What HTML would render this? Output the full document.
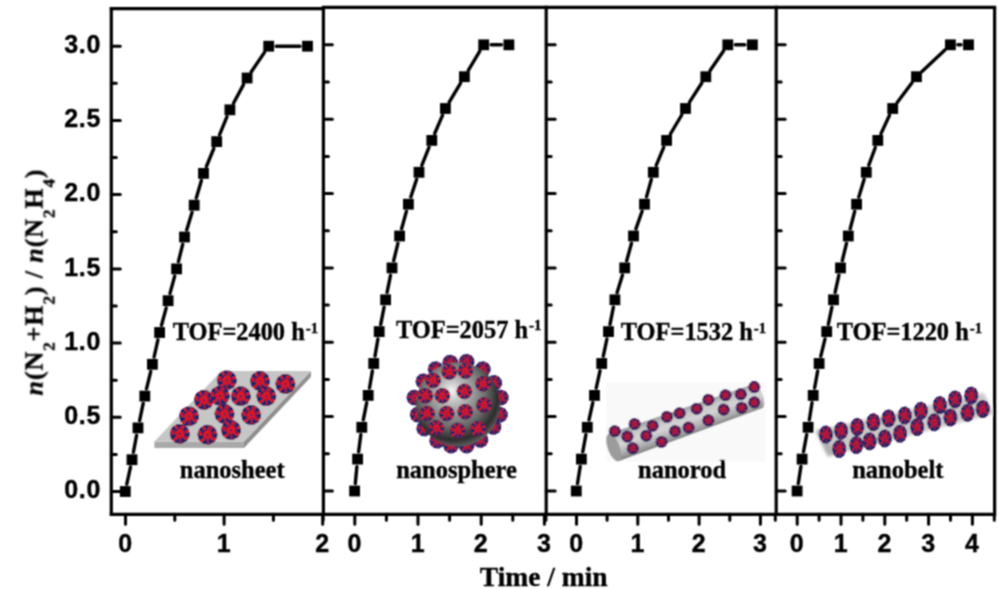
<!DOCTYPE html>
<html><head><meta charset="utf-8"><style>
html,body{margin:0;padding:0;background:#fff;}
body{width:1000px;height:590px;overflow:hidden;position:relative;}
svg{position:absolute;left:0;top:0;}
</style></head><body>
<svg width="1000" height="590" viewBox="0 0 1000 590">
<filter id="soft" x="-2%" y="-2%" width="104%" height="104%"><feConvolveMatrix order="3" kernelMatrix="1 2 1 2 4 2 1 2 1" divisor="16" edgeMode="none"/></filter>
<rect width="1000" height="590" fill="#fff"/>
<g filter="url(#soft)">
<defs>
<symbol id="np" viewBox="-10 -10 20 20" overflow="visible">
<circle r="9.7" fill="#ec1418"/>
<g fill="#17256a">
<path d="M2.66 0.32L9.47 -1.55L8.83 3.76ZM1.05 2.03L6.65 6.93L1.80 9.43ZM-0.74 2.43L0.06 9.60L-5.42 7.92ZM-2.66 0.91L-7.68 5.76L-9.60 0.15ZM-2.33 -1.94L-8.78 -3.88L-5.42 -7.93ZM-0.41 -3.30L-3.84 -8.80L1.58 -9.47ZM2.31 -2.02L5.07 -8.15L8.76 -3.93Z"/>
<ellipse cx="5.28" cy="2.89" rx="1.15" ry="0.72" transform="rotate(28 5.28 2.89)"/><ellipse cx="1.12" cy="6.13" rx="1.08" ry="0.89" transform="rotate(79 1.12 6.13)"/><ellipse cx="-4.83" cy="3.43" rx="1.35" ry="0.76" transform="rotate(144 -4.83 3.43)"/><ellipse cx="-5.21" cy="-1.38" rx="1.36" ry="0.95" transform="rotate(194 -5.21 -1.38)"/><ellipse cx="-2.74" cy="-3.91" rx="0.93" ry="0.99" transform="rotate(234 -2.74 -3.91)"/><ellipse cx="2.14" cy="-5.34" rx="0.98" ry="0.80" transform="rotate(291 2.14 -5.34)"/><ellipse cx="4.96" cy="-1.57" rx="1.15" ry="0.83" transform="rotate(342 4.96 -1.57)"/>
<circle r="1.2"/>
</g>
<circle r="9.1" fill="none" stroke="#17256a" stroke-width="1.2" stroke-dasharray="3.5 2"/>
</symbol>
<symbol id="np2" viewBox="-10 -10 20 20" overflow="visible">
<circle r="9.7" fill="#d0142a"/>
<g fill="#17256a">
<path d="M2.66 0.32L9.47 -1.55L8.83 3.76ZM1.05 2.03L6.65 6.93L1.80 9.43ZM-0.74 2.43L0.06 9.60L-5.42 7.92ZM-2.66 0.91L-7.68 5.76L-9.60 0.15ZM-2.33 -1.94L-8.78 -3.88L-5.42 -7.93ZM-0.41 -3.30L-3.84 -8.80L1.58 -9.47ZM2.31 -2.02L5.07 -8.15L8.76 -3.93Z"/>
<ellipse cx="5.28" cy="2.89" rx="1.15" ry="0.72" transform="rotate(28 5.28 2.89)"/><ellipse cx="1.12" cy="6.13" rx="1.08" ry="0.89" transform="rotate(79 1.12 6.13)"/><ellipse cx="-4.83" cy="3.43" rx="1.35" ry="0.76" transform="rotate(144 -4.83 3.43)"/><ellipse cx="-5.21" cy="-1.38" rx="1.36" ry="0.95" transform="rotate(194 -5.21 -1.38)"/><ellipse cx="-2.74" cy="-3.91" rx="0.93" ry="0.99" transform="rotate(234 -2.74 -3.91)"/><ellipse cx="2.14" cy="-5.34" rx="0.98" ry="0.80" transform="rotate(291 2.14 -5.34)"/><ellipse cx="4.96" cy="-1.57" rx="1.15" ry="0.83" transform="rotate(342 4.96 -1.57)"/>
<circle r="1.2"/>
</g>
<circle r="9.1" fill="none" stroke="#17256a" stroke-width="2" stroke-dasharray="4 1.2"/>
</symbol>
<radialGradient id="bigsph" cx="0.45" cy="0.4" r="0.6" fx="0.42" fy="0.33">
<stop offset="0" stop-color="#f2f2f2"/>
<stop offset="0.28" stop-color="#b4b4b4"/>
<stop offset="0.65" stop-color="#6c6c6c"/>
<stop offset="0.88" stop-color="#2c2c2c"/>
<stop offset="1" stop-color="#5c5c5c"/>
</radialGradient>
<linearGradient id="rodg" x1="0" y1="0" x2="0" y2="1">
<stop offset="0" stop-color="#9a9a9a"/>
<stop offset="0.25" stop-color="#c8c8c8"/>
<stop offset="0.5" stop-color="#d4d4d4"/>
<stop offset="0.8" stop-color="#a9a9a9"/>
<stop offset="1" stop-color="#808080"/>
</linearGradient>
<linearGradient id="beltg" x1="0" y1="0" x2="0" y2="1">
<stop offset="0" stop-color="#d8d8d8"/>
<stop offset="0.5" stop-color="#c4c4c4"/>
<stop offset="1" stop-color="#d9d9d9"/>
</linearGradient>
</defs>
<path d="M154.4 441.5 L244 441.5 L244 448 L154.4 448Z" fill="#a9a9a9"/>
<path d="M244 441.5 L310.9 371 L310.9 377 L244 448Z" fill="#8f8f8f"/>
<path d="M154.4 441.5 L221.2 371 L310.9 371 L244 441.5Z" fill="#c6c6c6"/>
<use href="#np" x="216.6" y="370.1" width="20.4" height="20.4"/>
<use href="#np" x="249.8" y="370.8" width="20.4" height="20.4"/>
<use href="#np" x="275.2" y="373.8" width="20.4" height="20.4"/>
<use href="#np" x="193.8" y="389.8" width="20.4" height="20.4"/>
<use href="#np" x="209.6" y="385.6" width="20.4" height="20.4"/>
<use href="#np" x="230.6" y="386" width="20.4" height="20.4"/>
<use href="#np" x="256.1" y="386" width="20.4" height="20.4"/>
<use href="#np" x="178.9" y="406.1" width="20.4" height="20.4"/>
<use href="#np" x="214.3" y="403.8" width="20.4" height="20.4"/>
<use href="#np" x="241" y="404.8" width="20.4" height="20.4"/>
<use href="#np" x="169.6" y="423.6" width="20.4" height="20.4"/>
<use href="#np" x="197.3" y="424.5" width="20.4" height="20.4"/>
<use href="#np" x="220.8" y="419.8" width="20.4" height="20.4"/>
<use href="#np2" x="442.5" y="354.9" width="15.6" height="15.6"/>
<use href="#np2" x="458.8" y="354" width="15.6" height="15.6"/>
<use href="#np2" x="427.9" y="361.4" width="15.6" height="15.6"/>
<use href="#np2" x="475" y="361.4" width="15.6" height="15.6"/>
<use href="#np2" x="415.7" y="373.6" width="15.6" height="15.6"/>
<use href="#np2" x="486.4" y="375.2" width="15.6" height="15.6"/>
<use href="#np2" x="406.7" y="389.8" width="15.6" height="15.6"/>
<use href="#np2" x="493" y="389.8" width="15.6" height="15.6"/>
<use href="#np2" x="410" y="406.9" width="15.6" height="15.6"/>
<use href="#np2" x="492.1" y="406.9" width="15.6" height="15.6"/>
<use href="#np2" x="416.5" y="420.7" width="15.6" height="15.6"/>
<use href="#np2" x="485.6" y="419.1" width="15.6" height="15.6"/>
<use href="#np2" x="429.5" y="432.9" width="15.6" height="15.6"/>
<use href="#np2" x="443.3" y="437.8" width="15.6" height="15.6"/>
<use href="#np2" x="458.8" y="437.8" width="15.6" height="15.6"/>
<use href="#np2" x="472.6" y="432.1" width="15.6" height="15.6"/>
<circle cx="458" cy="404.5" r="42" fill="url(#bigsph)"/>
<use href="#np" x="441.2" y="363.9" width="16" height="16"/>
<use href="#np" x="457.3" y="363.1" width="16" height="16"/>
<use href="#np" x="425.1" y="372.4" width="16" height="16"/>
<use href="#np" x="475.1" y="375.8" width="16" height="16"/>
<use href="#np" x="417.4" y="387.7" width="16" height="16"/>
<use href="#np" x="434.4" y="387.7" width="16" height="16"/>
<use href="#np" x="456.4" y="383.4" width="16" height="16"/>
<use href="#np" x="475.9" y="397" width="16" height="16"/>
<use href="#np" x="419.1" y="405.5" width="16" height="16"/>
<use href="#np" x="438.6" y="405.5" width="16" height="16"/>
<use href="#np" x="457.3" y="403.8" width="16" height="16"/>
<use href="#np" x="428.4" y="419.9" width="16" height="16"/>
<use href="#np" x="449.6" y="422.4" width="16" height="16"/>
<use href="#np" x="470" y="420.7" width="16" height="16"/>
<rect x="606" y="382" width="160" height="80" fill="#f9f9f9"/>
<g transform="translate(613.7 447.5) rotate(-19.6)"><path d="M0 -14.5 L153 -12.8 A5 12.8 0 0 1 153 12.8 L0 14.5Z" fill="url(#rodg)"/><ellipse cx="0" cy="0" rx="6" ry="14.5" fill="#9c9c9c"/></g>
<use href="#np2" x="608.8" y="425.2" width="12" height="12"/>
<use href="#np2" x="628.6" y="418" width="12" height="12"/>
<use href="#np2" x="646.6" y="419.8" width="12" height="12"/>
<use href="#np2" x="661" y="410.8" width="12" height="12"/>
<use href="#np2" x="673.6" y="407.2" width="12" height="12"/>
<use href="#np2" x="690.7" y="402.7" width="12" height="12"/>
<use href="#np2" x="702.4" y="393.7" width="12" height="12"/>
<use href="#np2" x="719.5" y="389.2" width="12" height="12"/>
<use href="#np2" x="734.8" y="388.3" width="12" height="12"/>
<use href="#np2" x="748.3" y="381.1" width="12" height="12"/>
<use href="#np2" x="621.4" y="430.6" width="12" height="12"/>
<use href="#np2" x="640.3" y="429.7" width="12" height="12"/>
<use href="#np2" x="669.1" y="425.2" width="12" height="12"/>
<use href="#np2" x="682.6" y="421.6" width="12" height="12"/>
<use href="#np2" x="702.4" y="414.4" width="12" height="12"/>
<use href="#np2" x="717.7" y="403.6" width="12" height="12"/>
<use href="#np2" x="735.7" y="401.8" width="12" height="12"/>
<use href="#np2" x="748.3" y="396.4" width="12" height="12"/>
<use href="#np2" x="626.8" y="442.3" width="12" height="12"/>
<use href="#np2" x="655.6" y="436" width="12" height="12"/>
<filter id="bb" x="-10%" y="-30%" width="120%" height="160%"><feGaussianBlur stdDeviation="1.6"/></filter>
<g filter="url(#bb)"><path d="M815.5 430.8 L983.6 392.8 L994 413.7 L827.8 456.5Z" fill="#c9c9c9"/><path d="M815.5 430.8 L827.8 456.5 L836 454 L822 429Z" fill="#b0b0b0"/></g>
<use href="#np2" transform="translate(825.9 434.6) scale(0.7 0.9)" x="-10" y="-10" width="20" height="20"/>
<use href="#np2" transform="translate(841.1 430.8) scale(0.7 0.9)" x="-10" y="-10" width="20" height="20"/>
<use href="#np2" transform="translate(857.3 427) scale(0.7 0.9)" x="-10" y="-10" width="20" height="20"/>
<use href="#np2" transform="translate(873.4 422.3) scale(0.7 0.9)" x="-10" y="-10" width="20" height="20"/>
<use href="#np2" transform="translate(888.6 418.5) scale(0.7 0.9)" x="-10" y="-10" width="20" height="20"/>
<use href="#np2" transform="translate(904.8 415.6) scale(0.7 0.9)" x="-10" y="-10" width="20" height="20"/>
<use href="#np2" transform="translate(920.9 410.9) scale(0.7 0.9)" x="-10" y="-10" width="20" height="20"/>
<use href="#np2" transform="translate(939.9 405.2) scale(0.7 0.9)" x="-10" y="-10" width="20" height="20"/>
<use href="#np2" transform="translate(955.1 399.5) scale(0.7 0.9)" x="-10" y="-10" width="20" height="20"/>
<use href="#np2" transform="translate(971.3 395.7) scale(0.7 0.9)" x="-10" y="-10" width="20" height="20"/>
<use href="#np2" transform="translate(839.2 448.9) scale(0.7 0.9)" x="-10" y="-10" width="20" height="20"/>
<use href="#np2" transform="translate(856.3 445) scale(0.7 0.9)" x="-10" y="-10" width="20" height="20"/>
<use href="#np2" transform="translate(869.6 441.3) scale(0.7 0.9)" x="-10" y="-10" width="20" height="20"/>
<use href="#np2" transform="translate(884.8 438.4) scale(0.7 0.9)" x="-10" y="-10" width="20" height="20"/>
<use href="#np2" transform="translate(900 433.7) scale(0.7 0.9)" x="-10" y="-10" width="20" height="20"/>
<use href="#np2" transform="translate(917.1 427) scale(0.7 0.9)" x="-10" y="-10" width="20" height="20"/>
<use href="#np2" transform="translate(934.2 422.3) scale(0.7 0.9)" x="-10" y="-10" width="20" height="20"/>
<use href="#np2" transform="translate(950.4 417.5) scale(0.7 0.9)" x="-10" y="-10" width="20" height="20"/>
<use href="#np2" transform="translate(967.5 412.8) scale(0.7 0.9)" x="-10" y="-10" width="20" height="20"/>
<use href="#np2" transform="translate(982.7 409) scale(0.7 0.9)" x="-10" y="-10" width="20" height="20"/>
<path d="M126.8 484.2L130.5 467M133.4 452.3L136.6 435.3M139.6 420.6L143.2 403.4M146.5 388.8L150.7 371.6M154.1 357L157.9 339.8M161.5 325.2L166.2 307.9M170 293.4L174.7 276.1M178.4 261.6L182.7 244.3M186.7 229.9L192 212.4M196.3 198L201.4 180.6M206.4 166.5L213.8 148.5M219.6 134.7L227 116.7M233.5 103.2L243.5 84.6M251.3 71.8L264.5 52.4M276.2 46.2L300 46.2" stroke="#000" stroke-width="3.4" fill="none" stroke-linecap="round"/>
<rect x="119.9" y="486.1" width="10.8" height="10.8" fill="#000"/>
<rect x="126.6" y="454.3" width="10.8" height="10.8" fill="#000"/>
<rect x="132.6" y="422.5" width="10.8" height="10.8" fill="#000"/>
<rect x="139.4" y="390.7" width="10.8" height="10.8" fill="#000"/>
<rect x="147" y="358.9" width="10.8" height="10.8" fill="#000"/>
<rect x="154.2" y="327.1" width="10.8" height="10.8" fill="#000"/>
<rect x="162.7" y="295.3" width="10.8" height="10.8" fill="#000"/>
<rect x="171.2" y="263.5" width="10.8" height="10.8" fill="#000"/>
<rect x="179.1" y="231.6" width="10.8" height="10.8" fill="#000"/>
<rect x="188.8" y="199.8" width="10.8" height="10.8" fill="#000"/>
<rect x="198.1" y="168" width="10.8" height="10.8" fill="#000"/>
<rect x="211.3" y="136.2" width="10.8" height="10.8" fill="#000"/>
<rect x="224.5" y="104.4" width="10.8" height="10.8" fill="#000"/>
<rect x="241.7" y="72.6" width="10.8" height="10.8" fill="#000"/>
<rect x="263.3" y="40.8" width="10.8" height="10.8" fill="#000"/>
<rect x="302.1" y="40.8" width="10.8" height="10.8" fill="#000"/>
<path d="M355.3 483.5L356.9 466.6M358.6 451.7L360.8 434.7M363.3 419.9L366.7 402.7M369.5 388L372.4 370.9M375 356.1L377.9 339M380.7 324.3L384.1 307.1M387.1 292.4L390.5 275.3M393.7 260.6L397.9 243.3M401.6 228.8L406.4 211.4M410.8 197L416.6 179.4M421.8 165.3L429 147.4M434.7 133.5L442.5 115.4M449.2 102.1L460.6 83.1M468.3 70.3L479.8 51.2M491.2 44.8L501.4 44.8" stroke="#000" stroke-width="3.4" fill="none" stroke-linecap="round"/>
<rect x="349.2" y="485.6" width="10.8" height="10.8" fill="#000"/>
<rect x="352.2" y="453.7" width="10.8" height="10.8" fill="#000"/>
<rect x="356.4" y="421.9" width="10.8" height="10.8" fill="#000"/>
<rect x="362.8" y="390" width="10.8" height="10.8" fill="#000"/>
<rect x="368.3" y="358.1" width="10.8" height="10.8" fill="#000"/>
<rect x="373.8" y="326.2" width="10.8" height="10.8" fill="#000"/>
<rect x="380.2" y="294.4" width="10.8" height="10.8" fill="#000"/>
<rect x="386.6" y="262.5" width="10.8" height="10.8" fill="#000"/>
<rect x="394.2" y="230.6" width="10.8" height="10.8" fill="#000"/>
<rect x="403" y="198.8" width="10.8" height="10.8" fill="#000"/>
<rect x="413.6" y="166.9" width="10.8" height="10.8" fill="#000"/>
<rect x="426.4" y="135" width="10.8" height="10.8" fill="#000"/>
<rect x="440" y="103.1" width="10.8" height="10.8" fill="#000"/>
<rect x="459" y="71.3" width="10.8" height="10.8" fill="#000"/>
<rect x="478.3" y="39.4" width="10.8" height="10.8" fill="#000"/>
<rect x="503.5" y="39.4" width="10.8" height="10.8" fill="#000"/>
<path d="M577.5 483.6L580.2 466.5M582.8 451.8L585.9 434.6M589 419.9L592.8 402.7M596.2 388.1L600 370.8M603.3 356.2L606.9 339M610 324.3L613.4 307.1M617.1 292.6L622.5 275.1M626.7 260.7L631.5 243.3M635.9 228.9L642.1 211.2M646.5 196.9L651.3 179.5M656.2 165.4L663.7 147.3M670.4 134L681.7 115M689.5 102.2L701.8 83M710.1 70.5L723.5 51M735.3 44.8L744.9 44.8" stroke="#000" stroke-width="3.4" fill="none" stroke-linecap="round"/>
<rect x="570.9" y="485.6" width="10.8" height="10.8" fill="#000"/>
<rect x="576" y="453.7" width="10.8" height="10.8" fill="#000"/>
<rect x="581.9" y="421.9" width="10.8" height="10.8" fill="#000"/>
<rect x="589.1" y="390" width="10.8" height="10.8" fill="#000"/>
<rect x="596.3" y="358.1" width="10.8" height="10.8" fill="#000"/>
<rect x="603.1" y="326.2" width="10.8" height="10.8" fill="#000"/>
<rect x="609.5" y="294.4" width="10.8" height="10.8" fill="#000"/>
<rect x="619.3" y="262.5" width="10.8" height="10.8" fill="#000"/>
<rect x="628.1" y="230.6" width="10.8" height="10.8" fill="#000"/>
<rect x="639.1" y="198.8" width="10.8" height="10.8" fill="#000"/>
<rect x="647.9" y="166.9" width="10.8" height="10.8" fill="#000"/>
<rect x="661.2" y="135" width="10.8" height="10.8" fill="#000"/>
<rect x="680.1" y="103.1" width="10.8" height="10.8" fill="#000"/>
<rect x="700.4" y="71.3" width="10.8" height="10.8" fill="#000"/>
<rect x="722.4" y="39.4" width="10.8" height="10.8" fill="#000"/>
<rect x="747" y="39.4" width="10.8" height="10.8" fill="#000"/>
<path d="M798.3 483.6L800.9 466.5M803.5 451.8L806.7 434.6M809.3 419.9L812 402.8M814.6 388L817.7 370.9M820.8 356.2L825 338.9M828.3 324.3L831.9 307.1M835.1 292.4L838.9 275.2M842.3 260.6L846.5 243.3M850.2 228.8L854.7 211.4M858.8 197L864.1 179.5M868.8 165.2L875.3 147.5M881 133.6L889.5 115.3M897.2 102.5L912 82.7M922 71.5L944.9 49.9M957.9 44.8L961 44.8" stroke="#000" stroke-width="3.4" fill="none" stroke-linecap="round"/>
<rect x="791.7" y="485.6" width="10.8" height="10.8" fill="#000"/>
<rect x="796.7" y="453.7" width="10.8" height="10.8" fill="#000"/>
<rect x="802.7" y="421.9" width="10.8" height="10.8" fill="#000"/>
<rect x="807.8" y="390" width="10.8" height="10.8" fill="#000"/>
<rect x="813.7" y="358.1" width="10.8" height="10.8" fill="#000"/>
<rect x="821.3" y="326.2" width="10.8" height="10.8" fill="#000"/>
<rect x="828.1" y="294.4" width="10.8" height="10.8" fill="#000"/>
<rect x="835.1" y="262.5" width="10.8" height="10.8" fill="#000"/>
<rect x="842.9" y="230.6" width="10.8" height="10.8" fill="#000"/>
<rect x="851.2" y="198.8" width="10.8" height="10.8" fill="#000"/>
<rect x="860.9" y="166.9" width="10.8" height="10.8" fill="#000"/>
<rect x="872.4" y="135" width="10.8" height="10.8" fill="#000"/>
<rect x="887.3" y="103.1" width="10.8" height="10.8" fill="#000"/>
<rect x="911.1" y="71.3" width="10.8" height="10.8" fill="#000"/>
<rect x="945" y="39.4" width="10.8" height="10.8" fill="#000"/>
<rect x="963.1" y="39.4" width="10.8" height="10.8" fill="#000"/>
<path d="M109.8 8.6H324.9" stroke="#000" stroke-width="3.2"/>
<path d="M321.9 7.4H547.7" stroke="#000" stroke-width="3.2"/>
<path d="M544.7 7.4H777.7" stroke="#000" stroke-width="3.2"/>
<path d="M774.7 7.4H996.1" stroke="#000" stroke-width="3.2"/>
<path d="M109.8 514.3H996.1" stroke="#000" stroke-width="3.2"/>
<path d="M111.3 7.1V515.8" stroke="#000" stroke-width="3.2"/>
<path d="M323.4 5.9V515.8" stroke="#000" stroke-width="3.2"/>
<path d="M546.2 5.9V515.8" stroke="#000" stroke-width="3.2"/>
<path d="M776.2 5.9V515.8" stroke="#000" stroke-width="3.2"/>
<path d="M994.6 5.9V515.8" stroke="#000" stroke-width="3.2"/>
<path d="M111.3 491.5h9M111.3 454.4h5M111.3 417.3h9M111.3 380.2h5M111.3 343.1h9M111.3 306h5M111.3 268.9h9M111.3 231.7h5M111.3 194.6h9M111.3 157.5h5M111.3 120.4h9M111.3 83.3h5M111.3 46.2h9M323.4 491h9M323.4 453.8h5M323.4 416.6h9M323.4 379.4h5M323.4 342.3h9M323.4 305.1h5M323.4 267.9h9M323.4 230.7h5M323.4 193.5h9M323.4 156.4h5M323.4 119.2h9M323.4 82h5M323.4 44.8h9M546.2 491h9M546.2 453.8h5M546.2 416.6h9M546.2 379.4h5M546.2 342.3h9M546.2 305.1h5M546.2 267.9h9M546.2 230.7h5M546.2 193.5h9M546.2 156.4h5M546.2 119.2h9M546.2 82h5M546.2 44.8h9M776.2 491h9M776.2 453.8h5M776.2 416.6h9M776.2 379.4h5M776.2 342.3h9M776.2 305.1h5M776.2 267.9h9M776.2 230.7h5M776.2 193.5h9M776.2 156.4h5M776.2 119.2h9M776.2 82h5M776.2 44.8h9M125.5 514.3v10M174.8 514.3v6M224.1 514.3v10M273.4 514.3v6M322.7 514.3v10M323.2 514.3v6M354.8 514.3v10M386.4 514.3v6M418 514.3v10M449.6 514.3v6M481.2 514.3v10M512.8 514.3v6M544.4 514.3v10M545.9 514.3v6M576.5 514.3v10M607.1 514.3v6M637.8 514.3v10M668.5 514.3v6M699.1 514.3v10M729.8 514.3v6M760.4 514.3v10M775.3 514.3v6M797.2 514.3v10M819.1 514.3v6M841 514.3v10M862.9 514.3v6M884.8 514.3v10M906.7 514.3v6M928.6 514.3v10M950.5 514.3v6M972.4 514.3v10M994.3 514.3v6" stroke="#000" stroke-width="3" stroke-linecap="round"/>
<g font-family="Liberation Sans, sans-serif" font-weight="bold" font-size="25" letter-spacing="0.8" stroke="#000" stroke-width="0.4"><text x="101.3" y="498.1" text-anchor="end">0.0</text><text x="101.3" y="423.9" text-anchor="end">0.5</text><text x="101.3" y="349.7" text-anchor="end">1.0</text><text x="101.3" y="275.5" text-anchor="end">1.5</text><text x="101.3" y="201.2" text-anchor="end">2.0</text><text x="101.3" y="127" text-anchor="end">2.5</text><text x="101.3" y="52.8" text-anchor="end">3.0</text><text x="125.5" y="551.7" text-anchor="middle">0</text><text x="224.1" y="551.7" text-anchor="middle">1</text><text x="322.7" y="551.7" text-anchor="middle">2</text><text x="354.8" y="551.7" text-anchor="middle">0</text><text x="418" y="551.7" text-anchor="middle">1</text><text x="481.2" y="551.7" text-anchor="middle">2</text><text x="544.4" y="551.7" text-anchor="middle">3</text><text x="576.5" y="551.7" text-anchor="middle">0</text><text x="637.8" y="551.7" text-anchor="middle">1</text><text x="699.1" y="551.7" text-anchor="middle">2</text><text x="760.4" y="551.7" text-anchor="middle">3</text><text x="797.2" y="551.7" text-anchor="middle">0</text><text x="841" y="551.7" text-anchor="middle">1</text><text x="884.8" y="551.7" text-anchor="middle">2</text><text x="928.6" y="551.7" text-anchor="middle">3</text><text x="972.4" y="551.7" text-anchor="middle">4</text></g>
<g font-family="Liberation Serif, serif" font-weight="bold" font-size="24.4" fill="#000" stroke="#000" stroke-width="0.35"><text x="172.7" y="340.2">TOF=2400 h<tspan font-size="15" dy="-7.5" dx="1">-1</tspan></text><text x="396" y="337.6">TOF=2057 h<tspan font-size="15" dy="-7.5" dx="1">-1</tspan></text><text x="620.8" y="340.2">TOF=1532 h<tspan font-size="15" dy="-7.5" dx="1">-1</tspan></text><text x="836.7" y="340.2">TOF=1220 h<tspan font-size="15" dy="-7.5" dx="1">-1</tspan></text><text x="179.8" y="478" font-size="24.5">nanosheet</text><text x="396.2" y="478" font-size="24.5">nanosphere</text><text x="638" y="478" font-size="24.5">nanorod</text><text x="852.2" y="478" font-size="24.5">nanobelt</text><text x="479.8" y="586.3" font-size="27.5">Time / min</text></g>
<text transform="translate(42.5 395.5) rotate(-90)" font-family="Liberation Serif, serif" font-weight="bold" font-size="26" letter-spacing="0.9" stroke="#000" stroke-width="0.35"><tspan font-style="italic">n</tspan>(N<tspan font-size="17" dy="11.5">2</tspan><tspan dy="-11.5">+H</tspan><tspan font-size="17" dy="11.5">2</tspan><tspan dy="-11.5">) / </tspan><tspan font-style="italic">n</tspan>(N<tspan font-size="17" dy="11.5">2</tspan><tspan dy="-11.5">H</tspan><tspan font-size="17" dy="11.5">4</tspan><tspan dy="-11.5">)</tspan></text>
</g>
</svg>
</body></html>
